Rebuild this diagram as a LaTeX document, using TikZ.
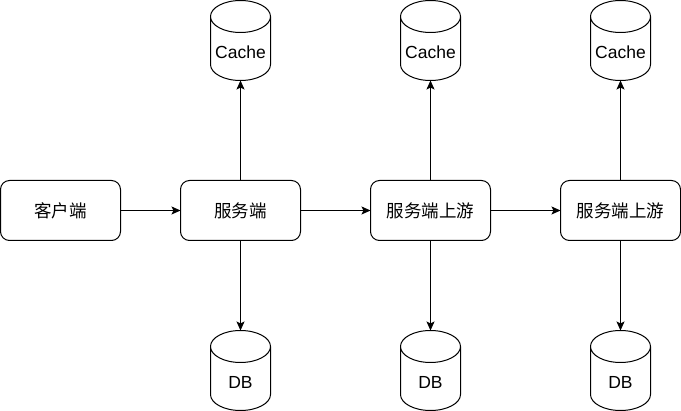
\documentclass[tikz,border=0pt]{standalone}
\usepackage{fontspec}
\setmainfont{Liberation Sans}
\newfontfamily\cjk{Noto Sans CJK SC}
\usetikzlibrary{arrows.meta,shapes.geometric}
\tikzset{
  box/.style={draw,rounded corners=9pt,minimum width=120pt,minimum height=60pt,outer sep=0pt,font=\fontsize{17.5}{20}\selectfont\cjk},
  store/.style={draw,cylinder,shape border rotate=90,aspect=4.8,minimum width=60pt,minimum height=80pt,outer sep=0pt,anchor=shape center,font=\fontsize{17.5}{20}\selectfont},
  link/.style={-{Stealth[length=9pt,width=8pt,inset=2pt]}}
}
\begin{document}
\begin{tikzpicture}[x=1pt,y=-1pt,line width=1pt]
      \useasboundingbox (0,0) rectangle (681,411);
      \node[box] (client) at (60.5,210.5) {客户端};
      \node[box] (server) at (240.5,210.5) {服务端};
      \node[box] (upa) at (430.5,210.5) {服务端上游};
      \node[box] (upb) at (620.5,210.5) {服务端上游};
      \node[store] (cachea) at (240.5,40.5) {\makebox[0pt]{Cache}};
      \node[store] (cacheb) at (430.5,40.5) {\makebox[0pt]{Cache}};
      \node[store] (cachec) at (620.5,40.5) {\makebox[0pt]{Cache}};
      \node[store] (dba) at (240.5,370.5) {\makebox[0pt]{DB}};
      \node[store] (dbb) at (430.5,370.5) {\makebox[0pt]{DB}};
      \node[store] (dbc) at (620.5,370.5) {\makebox[0pt]{DB}};
      \draw[link] (client) -- (server);
      \draw[link] (server) -- (upa);
      \draw[link] (upa) -- (upb);
      \draw[link] (server) -- (cachea.bottom);
      \draw[link] (upa) -- (cacheb.bottom);
      \draw[link] (upb) -- (cachec.bottom);
      \draw[link] (server) -- (dba.top);
      \draw[link] (upa) -- (dbb.top);
      \draw[link] (upb) -- (dbc.top);
    \end{tikzpicture}
\end{document}
